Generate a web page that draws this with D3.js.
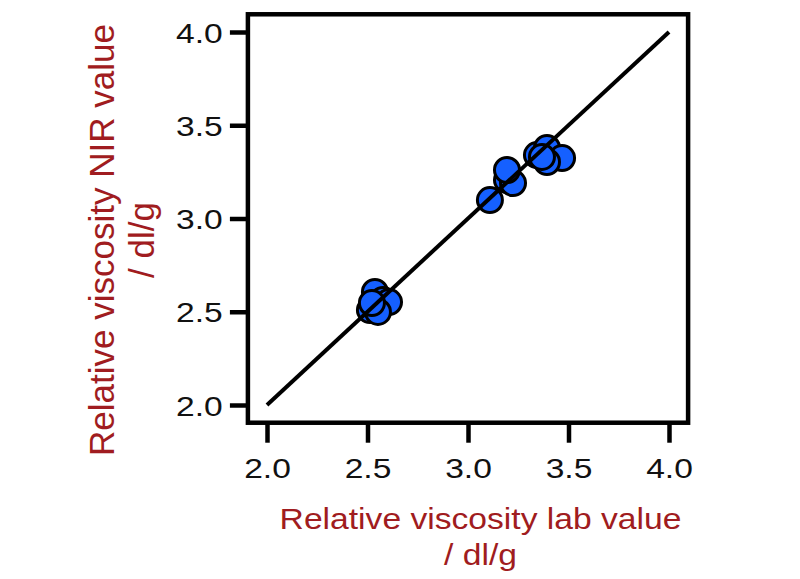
<!DOCTYPE html>
<html>
<head>
<meta charset="utf-8">
<script src="https://cdn.jsdelivr.net/npm/d3@7"></script>
<style>
  html, body { margin: 0; padding: 0; background: #fff; }
  svg { display: block; }
  text { font-family: "Liberation Sans", Arial, sans-serif; }
</style>
</head>
<body>
<script>
// ---- data ----
const labValues = [2.537, 2.577, 2.607, 2.512, 2.552, 2.522,
                   3.109, 3.194, 3.224, 3.194, 3.343, 3.393, 3.468, 3.393, 3.368];
const nirValues = [2.606, 2.563, 2.552, 2.509, 2.499, 2.547,
                   3.099, 3.206, 3.190, 3.260, 3.340, 3.378, 3.324, 3.303, 3.330];
const refLine = [2.0, 4.0];
const tickValues = [2.0, 2.5, 3.0, 3.5, 4.0];
const xTitle = ["Relative viscosity lab value", "/ dl/g"];
const yTitle = ["Relative viscosity NIR value", "/ dl/g"];

const W = 800, H = 579;
const svg = d3.select("body").append("svg").attr("width", W).attr("height", H);

const x = d3.scaleLinear().domain([2, 4]).range([267, 669]);
const y = d3.scaleLinear().domain([2, 4]).range([405, 32]);
const pad = 0.095;

const titleColor = "#a01c20";

// frame
svg.append("rect")
  .attr("x", x(2 - pad)).attr("y", y(4 + pad))
  .attr("width", x(4 + pad) - x(2 - pad))
  .attr("height", y(2 - pad) - y(4 + pad))
  .attr("fill", "none").attr("stroke", "#000").attr("stroke-width", 4.5);

// axes
const yAxis = svg.append("g")
  .attr("transform", `translate(${x(2 - pad)},0)`)
  .call(d3.axisLeft(y).tickValues(tickValues).tickFormat(d3.format(".1f")).tickSize(18).tickSizeOuter(0));
const xAxis = svg.append("g")
  .attr("transform", `translate(0,${y(2 - pad)})`)
  .call(d3.axisBottom(x).tickValues(tickValues).tickFormat(d3.format(".1f")).tickSize(20).tickSizeOuter(0));

[yAxis, xAxis].forEach(g => {
  g.select(".domain").remove();
  g.selectAll(".tick line").attr("stroke", "#000").attr("stroke-width", 4.5);
  g.selectAll(".tick text")
    .attr("fill", "#111")
    .style("font-family", '"Liberation Sans", Arial, sans-serif')
    .style("font-size", "28px");
});
yAxis.selectAll(".tick text")
  .attr("x", -21).attr("dy", "0.36em")
  .attr("transform", "scale(1.2,1)");
xAxis.selectAll(".tick text")
  .attr("y", 55).attr("dy", 0)
  .attr("transform", "scale(1.2,1)");

// points
const pts = labValues.map((v, i) => [v, nirValues[i]]);
svg.append("g").selectAll("circle").data(pts).join("circle")
  .attr("cx", d => x(d[0])).attr("cy", d => y(d[1]))
  .attr("r", 12.5)
  .attr("fill", "#1560ff")
  .attr("stroke", "#000").attr("stroke-width", 3);

// reference line (drawn on top of points, as in the reference)
svg.append("line")
  .attr("x1", x(refLine[0])).attr("y1", y(refLine[0]))
  .attr("x2", x(refLine[1])).attr("y2", y(refLine[1]))
  .attr("stroke", "#000").attr("stroke-width", 4);

// x title
const xt = svg.append("text")
  .attr("text-anchor", "middle")
  .attr("fill", titleColor)
  .style("font-size", "29px")
  .attr("transform", `translate(${(278 + 683) / 2},0) scale(1.16,1)`);
xt.append("tspan").attr("x", 0).attr("y", 529).text(xTitle[0]);
xt.append("tspan").attr("x", 0).attr("y", 565).text(xTitle[1]);

// y title
const yt = svg.append("text")
  .attr("text-anchor", "middle")
  .attr("fill", titleColor)
  .style("font-size", "35px")
  .attr("transform", `translate(0,${(13 + 467) / 2}) rotate(-90)`);
yt.append("tspan").attr("x", 0).attr("y", 114).text(yTitle[0]);
yt.append("tspan").attr("x", 0).attr("y", 154).text(yTitle[1]);
</script>
</body>
</html>
